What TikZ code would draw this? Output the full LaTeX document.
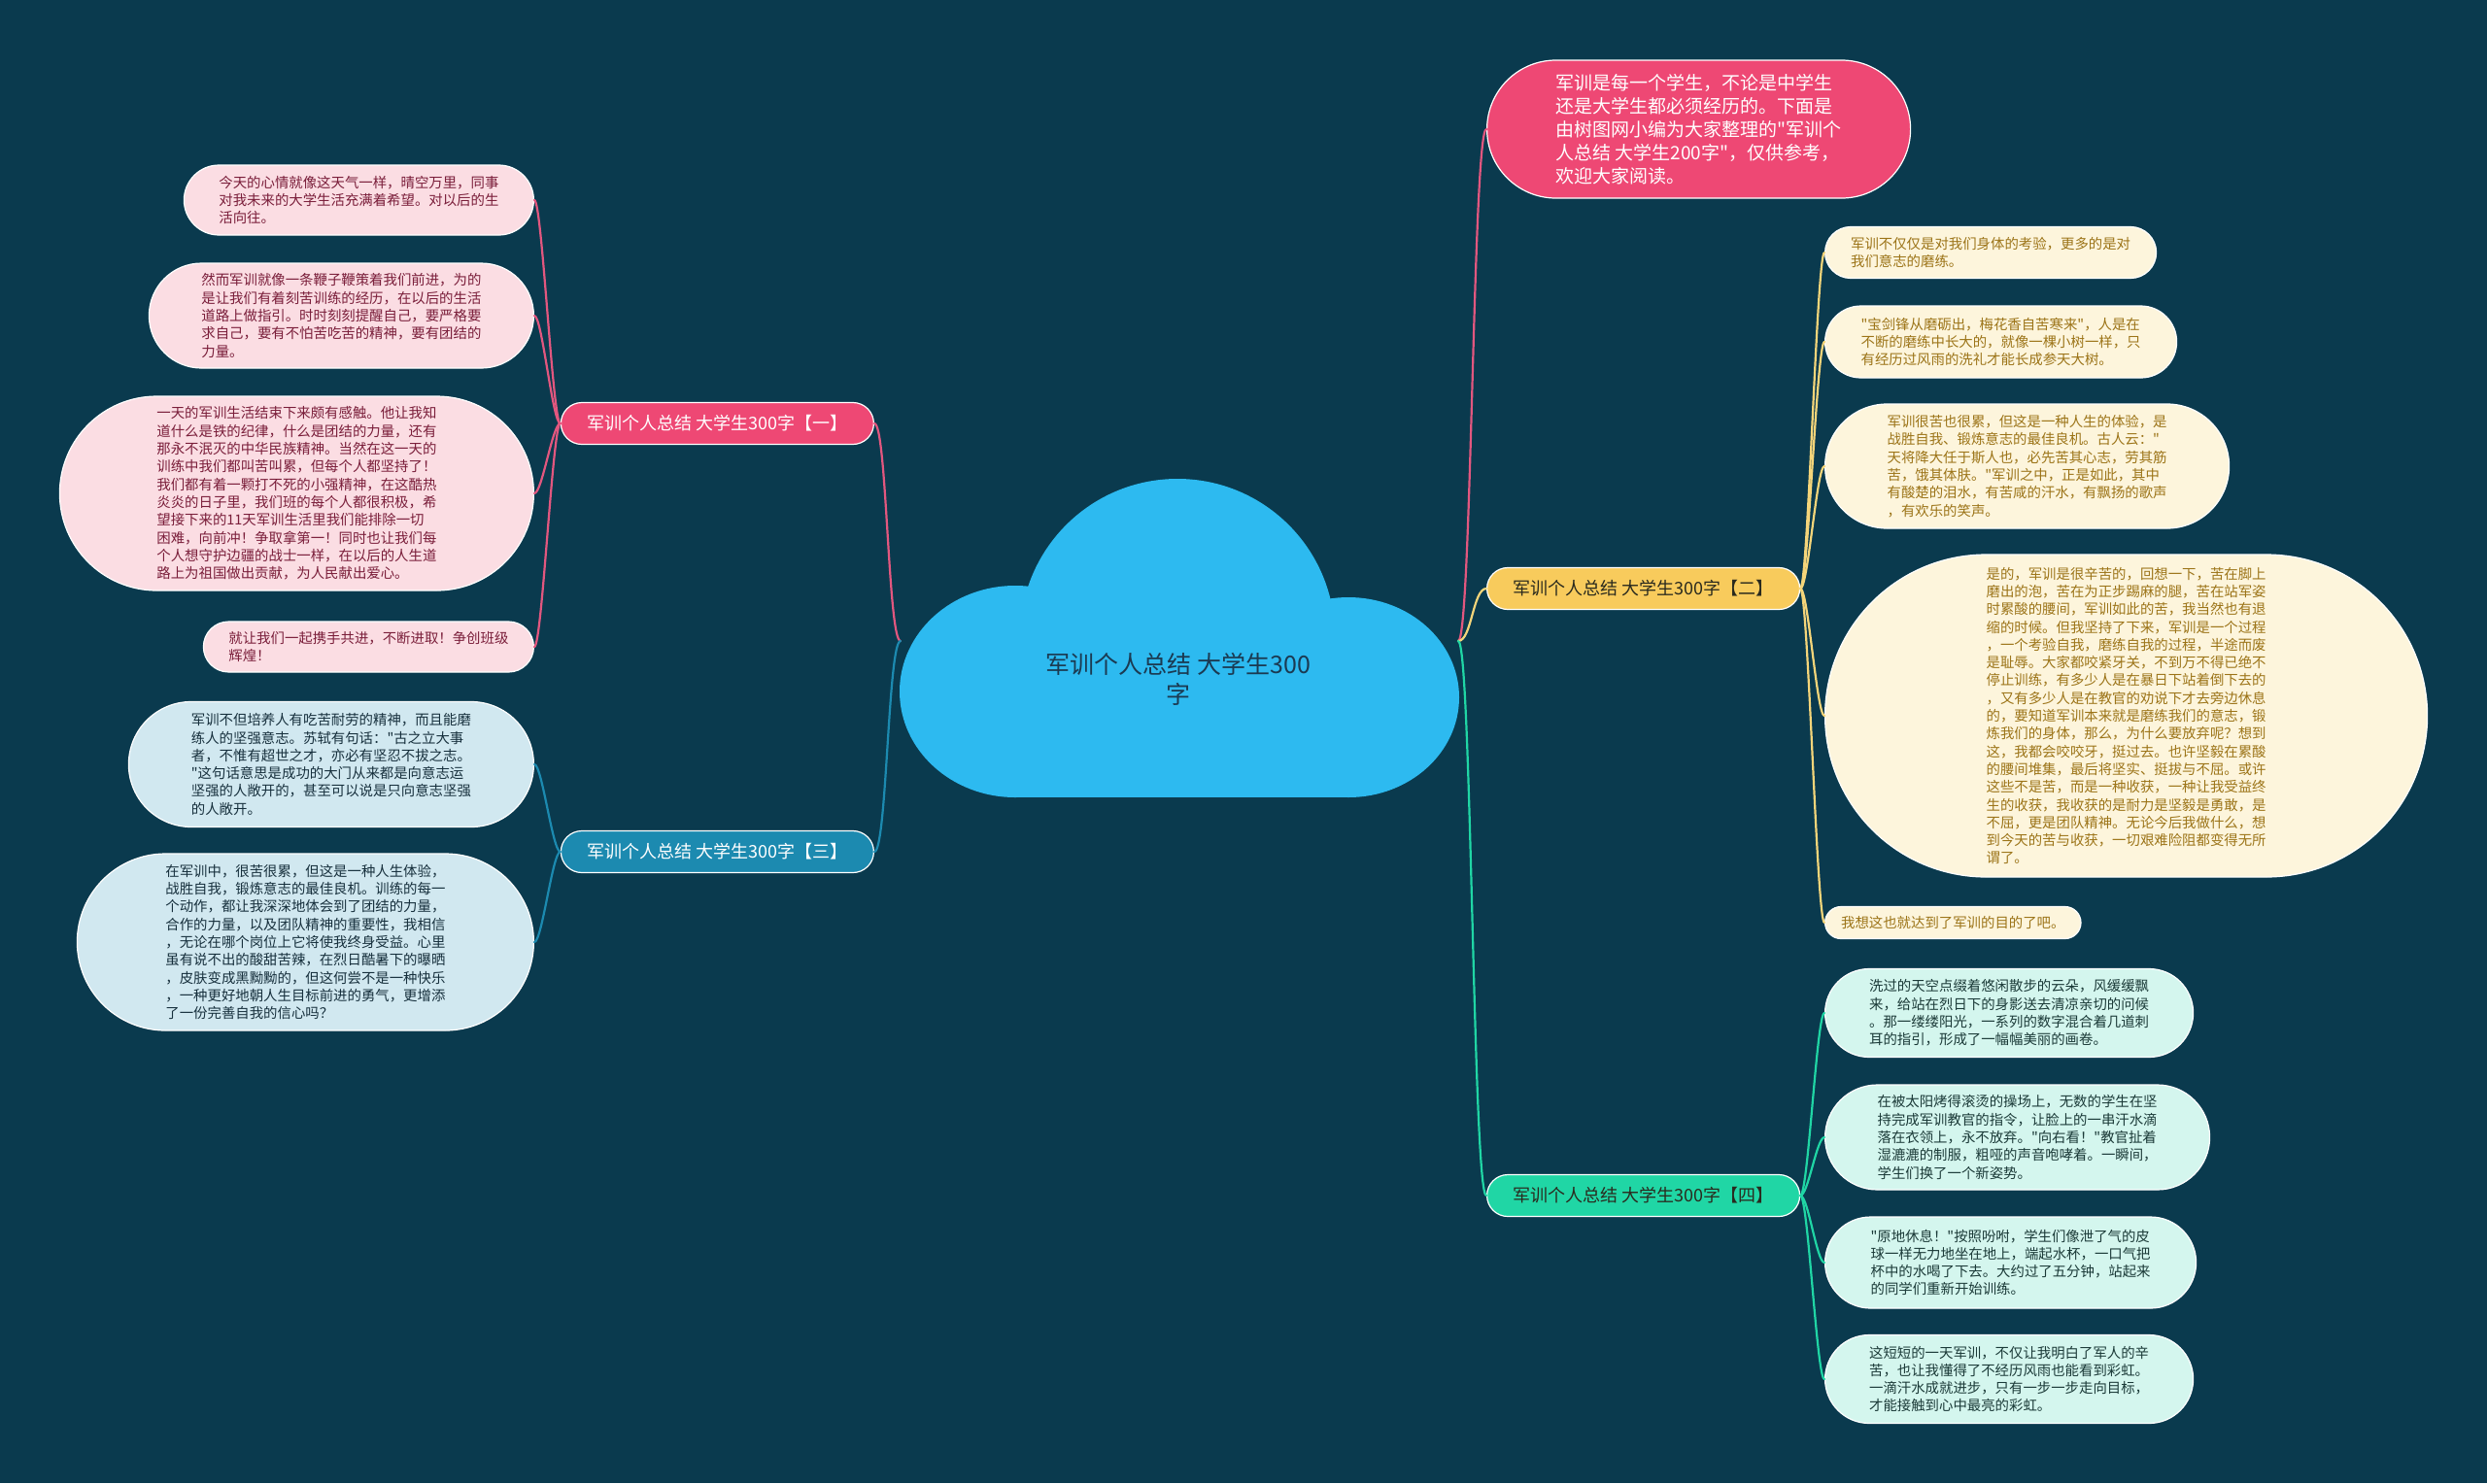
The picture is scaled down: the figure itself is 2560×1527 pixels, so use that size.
\documentclass[tikz,border=0pt]{standalone}
\usepackage{fontspec}
\newfontfamily\cjk{Noto Sans CJK SC}

\definecolor{bgc}{HTML}{0A3A4E}
\definecolor{cloudc}{HTML}{2DBAF0}
\definecolor{rootc}{HTML}{1B3A52}
\definecolor{pinkc}{HTML}{EE4874}
\definecolor{pinkln}{HTML}{E2577F}
\definecolor{pinkbg}{HTML}{FBDDE3}
\definecolor{pinktx}{HTML}{7A1E3A}
\definecolor{bluec}{HTML}{1C8AB0}
\definecolor{bluebg}{HTML}{D1E8F0}
\definecolor{bluetx}{HTML}{17303D}
\definecolor{yelc}{HTML}{F8CB5C}
\definecolor{yelln}{HTML}{F4D57A}
\definecolor{yelbg}{HTML}{FDF5DC}
\definecolor{yeltx}{HTML}{9C7418}
\definecolor{grnc}{HTML}{20D6A5}
\definecolor{grnbg}{HTML}{D4F6EE}
\definecolor{grntx}{HTML}{1B3A38}
\definecolor{darktx}{HTML}{2A2A1E}

\begin{document}
\begin{tikzpicture}[x=1pt, y=-1pt, line cap=round, line join=round,
  pill/.style={rectangle, draw=white, line width=1.2pt, inner ysep=0pt, inner xsep=#1*0.5pt,
    minimum height=#1, rounded corners=#1*0.5pt, align=left},
  leaf/.style={pill=#1, font=\cjk\fontsize{14.4}{18.3}\selectfont},
  pleaf/.style={leaf=#1, fill=pinkbg, text=pinktx, anchor=east},
  bleaf/.style={leaf=#1, fill=bluebg, text=bluetx, anchor=east},
  yleaf/.style={leaf=#1, fill=yelbg, text=yeltx, anchor=west},
  gleaf/.style={leaf=#1, fill=grnbg, text=grntx, anchor=west},
  topic/.style={pill=43, align=center, minimum width=322, font=\cjk\fontsize{18}{22}\selectfont},
  link/.style={line width=2.2pt}]
\fill[bgc] (0,0) rectangle (2560,1527);
\useasboundingbox (0,0) rectangle (2560,1527);

% centre cloud
\fill[cloudc] (1045,712) ellipse [x radius=119, y radius=109];
\fill[cloudc] (1212,655) circle (162);
\fill[cloudc] (1388,718) ellipse [x radius=114, y radius=103];
\fill[cloudc] (1045,690) rectangle (1388,821);
\node[align=center, text=rootc, font=\cjk\fontsize{25}{31}\selectfont] (root) at (1213,699) {军训个人总结 大学生300\\字};
\coordinate (cl) at (927,660);
\coordinate (cr) at (1501,660);

% topics
\node[topic, fill=pinkc, text=white, anchor=east] (t1) at (900,436) {军训个人总结 大学生300字【一】};
\node[topic, fill=bluec, text=white, anchor=east] (t3) at (900,877) {军训个人总结 大学生300字【三】};
\node[topic, fill=yelc, text=darktx, anchor=west] (t2) at (1530,606) {军训个人总结 大学生300字【二】};
\node[topic, fill=grnc, text=darktx, anchor=west] (t4) at (1530,1231) {军训个人总结 大学生300字【四】};
\node[pill=142, fill=pinkc, text=white, anchor=west, font=\cjk\fontsize{19}{24}\selectfont] (intro) at (1530,133)
  {军训是每一个学生，不论是中学生\\还是大学生都必须经历的。下面是\\由树图网小编为大家整理的"军训个\\人总结 大学生200字"，仅供参考，\\欢迎大家阅读。};

% left leaves
\node[pleaf=72] (p1) at (550,206)
  {今天的心情就像这天气一样，晴空万里，同事\\对我未来的大学生活充满着希望。对以后的生\\活向往。};
\node[pleaf=108] (p2) at (550,325)
  {然而军训就像一条鞭子鞭策着我们前进，为的\\是让我们有着刻苦训练的经历，在以后的生活\\道路上做指引。时时刻刻提醒自己，要严格要\\求自己，要有不怕苦吃苦的精神，要有团结的\\力量。};
\node[pleaf=200] (p3) at (550,508)
  {一天的军训生活结束下来颇有感触。他让我知\\道什么是铁的纪律，什么是团结的力量，还有\\那永不泯灭的中华民族精神。当然在这一天的\\训练中我们都叫苦叫累，但每个人都坚持了！\\我们都有着一颗打不死的小强精神，在这酷热\\炎炎的日子里，我们班的每个人都很积极，希\\望接下来的11天军训生活里我们能排除一切\\困难，向前冲！争取拿第一！同时也让我们每\\个人想守护边疆的战士一样，在以后的人生道\\路上为祖国做出贡献，为人民献出爱心。};
\node[pleaf=52] (p4) at (550,666)
  {就让我们一起携手共进，不断进取！争创班级\\辉煌！};
\node[bleaf=129] (b1) at (550,787)
  {军训不但培养人有吃苦耐劳的精神，而且能磨\\练人的坚强意志。苏轼有句话："古之立大事\\者，不惟有超世之才，亦必有坚忍不拔之志。\\"这句话意思是成功的大门从来都是向意志运\\坚强的人敞开的，甚至可以说是只向意志坚强\\的人敞开。};
\node[bleaf=182] (b2) at (550,970)
  {在军训中，很苦很累，但这是一种人生体验，\\战胜自我，锻炼意志的最佳良机。训练的每一\\个动作，都让我深深地体会到了团结的力量，\\合作的力量，以及团队精神的重要性，我相信\\，无论在哪个岗位上它将使我终身受益。心里\\虽有说不出的酸甜苦辣，在烈日酷暑下的曝晒\\，皮肤变成黑黝黝的，但这何尝不是一种快乐\\，一种更好地朝人生目标前进的勇气，更增添\\了一份完善自我的信心吗？};

% right leaves
\node[yleaf=53] (y1) at (1878,260)
  {军训不仅仅是对我们身体的考验，更多的是对\\我们意志的磨练。};
\node[yleaf=74] (y2) at (1878,352)
  {"宝剑锋从磨砺出，梅花香自苦寒来"，人是在\\不断的磨练中长大的，就像一棵小树一样，只\\有经历过风雨的洗礼才能长成参天大树。};
\node[yleaf=128] (y3) at (1878,480)
  {军训很苦也很累，但这是一种人生的体验，是\\战胜自我、锻炼意志的最佳良机。古人云："\\天将降大任于斯人也，必先苦其心志，劳其筋\\苦，饿其体肤。"军训之中，正是如此，其中\\有酸楚的泪水，有苦咸的汗水，有飘扬的歌声\\，有欢乐的笑声。};
\node[yleaf=332] (y4) at (1878,737)
  {是的，军训是很辛苦的，回想一下，苦在脚上\\磨出的泡，苦在为正步踢麻的腿，苦在站军姿\\时累酸的腰间，军训如此的苦，我当然也有退\\缩的时候。但我坚持了下来，军训是一个过程\\，一个考验自我，磨练自我的过程，半途而废\\是耻辱。大家都咬紧牙关，不到万不得已绝不\\停止训练，有多少人是在暴日下站着倒下去的\\，又有多少人是在教官的劝说下才去旁边休息\\的，要知道军训本来就是磨练我们的意志，锻\\炼我们的身体，那么，为什么要放弃呢？想到\\这，我都会咬咬牙，挺过去。也许坚毅在累酸\\的腰间堆集，最后将坚实、挺拔与不屈。或许\\这些不是苦，而是一种收获，一种让我受益终\\生的收获，我收获的是耐力是坚毅是勇敢，是\\不屈，更是团队精神。无论今后我做什么，想\\到今天的苦与收获，一切艰难险阻都变得无所\\谓了。};
\node[yleaf=33] (y5) at (1878,950)
  {我想这也就达到了军训的目的了吧。};
\node[gleaf=91] (g1) at (1878,1043)
  {洗过的天空点缀着悠闲散步的云朵，风缓缓飘\\来，给站在烈日下的身影送去清凉亲切的问候\\。那一缕缕阳光，一系列的数字混合着几道刺\\耳的指引，形成了一幅幅美丽的画卷。};
\node[gleaf=108] (g2) at (1878,1171)
  {在被太阳烤得滚烫的操场上，无数的学生在坚\\持完成军训教官的指令，让脸上的一串汗水滴\\落在衣领上，永不放弃。"向右看！"教官扯着\\湿漉漉的制服，粗哑的声音咆哮着。一瞬间，\\学生们换了一个新姿势。};
\node[gleaf=94] (g3) at (1878,1300)
  {"原地休息！"按照吩咐，学生们像泄了气的皮\\球一样无力地坐在地上，端起水杯，一口气把\\杯中的水喝了下去。大约过了五分钟，站起来\\的同学们重新开始训练。};
\node[gleaf=91] (g4) at (1878,1420)
  {这短短的一天军训，不仅让我明白了军人的辛\\苦，也让我懂得了不经历风雨也能看到彩虹。\\一滴汗水成就进步，只有一步一步走向目标，\\才能接触到心中最亮的彩虹。};

% links
\draw[link, pinkln] (cl) .. controls +(-13,0) and +(13,0) .. (t1.east);
\draw[link, bluec] (cl) .. controls +(-13,0) and +(13,0) .. (t3.east);
\draw[link, pinkln] (cr) .. controls +(14,0) and +(-14,0) .. (intro.west);
\draw[link, yelln] (cr) .. controls +(14,0) and +(-14,0) .. (t2.west);
\draw[link, grnc] (cr) .. controls +(14,0) and +(-14,0) .. (t4.west);
\foreach \n in {p1,p2,p3,p4} \draw[link, pinkln] (t1.west) .. controls +(-8,0) and +(8,0) .. (\n.east);
\foreach \n in {b1,b2} \draw[link, bluec] (t3.west) .. controls +(-8,0) and +(8,0) .. (\n.east);
\foreach \n in {y1,y2,y3,y4,y5} \draw[link, yelln] (t2.east) .. controls +(8,0) and +(-8,0) .. (\n.west);
\foreach \n in {g1,g2,g3,g4} \draw[link, grnc] (t4.east) .. controls +(8,0) and +(-8,0) .. (\n.west);
\end{tikzpicture}
\end{document}
